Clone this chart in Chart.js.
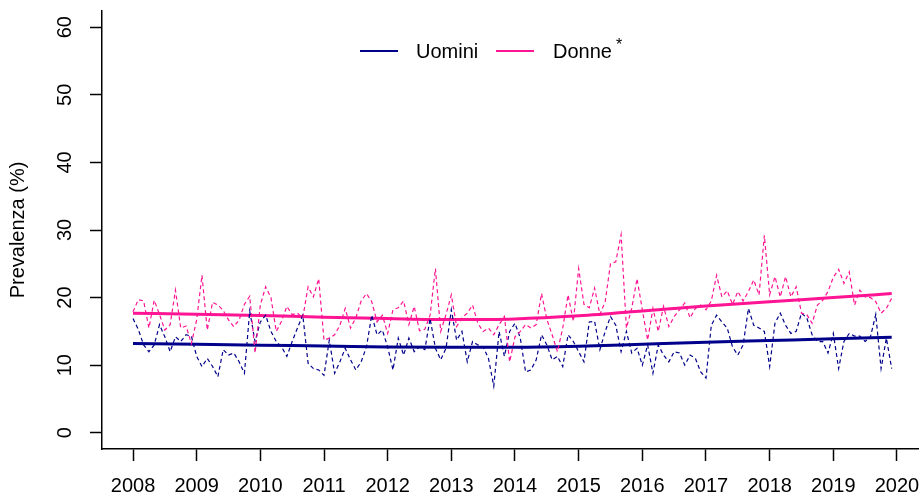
<!DOCTYPE html>
<html>
<head>
<meta charset="utf-8">
<script src="https://cdn.jsdelivr.net/npm/chart.js@4/dist/chart.umd.min.js"></script>
<style>
html,body{margin:0;padding:0;background:#fff;overflow:hidden;}
canvas{display:block;}
</style>
</head>
<body>
<canvas id="c" width="920" height="497"></canvas>
<script>
// ---- data ----
const startYear = 2008;
const yearTicks = [2008,2009,2010,2011,2012,2013,2014,2015,2016,2017,2018,2019,2020];
const yTicks = [0,10,20,30,40,50,60];

// Monthly prevalence, Jan 2008 - Dec 2019
const uomini = [
  16.9,15.3,13.0,12.0,13.0,16.0,14.2,12.0,14.2,13.5,14.5,14.3,
  11.3, 9.8,11.0, 9.8, 8.3,12.3,11.5,11.8,10.5, 8.8,18.0,13.5,
  16.4,17.4,15.0,13.5,12.7,11.3,13.5,15.5,17.4,10.3, 9.5, 9.3,
   8.5,13.7, 8.8,10.5,12.5,10.8, 9.3,10.5,12.7,17.4,14.5,15.2,
  12.7, 9.3,14.0,11.5,14.0,12.0,12.7,12.3,16.9,12.5,10.8,12.5,
  18.2,13.7,15.0,10.5,13.5,13.0,12.7,11.0, 6.9,15.0,11.3,15.0,
  16.2,14.0, 9.0, 9.3,10.8,14.5,13.0,10.8,11.3, 9.8,14.5,13.5,
  12.0,10.5,16.4,16.5,12.3,15.0,17.2,15.9,12.0,15.0,11.8,12.5,
  10.0,13.0, 8.8,13.0,11.5,10.5,12.0,11.8,10.0,11.5,11.0, 9.0,
   8.1,15.9,17.4,16.4,15.5,12.7,11.5,13.0,18.4,15.9,15.5,15.0,
   9.8,16.2,17.7,15.9,14.7,15.0,17.7,17.0,14.5,13.5,13.5,11.8,
  14.7, 9.5,13.5,14.7,14.3,14.3,13.5,14.2,17.5, 9.5,14.0, 9.5
];
const donne = [
  17.9,19.7,19.5,15.5,19.6,17.5,15.2,16.0,21.1,15.5,15.8,13.2,
  16.7,23.3,15.2,19.3,18.9,18.1,16.7,15.7,16.7,19.0,20.2,11.8,
  18.9,21.6,20.0,15.0,16.5,18.7,17.5,17.7,17.0,21.6,20.1,22.8,
  13.7,14.0,14.5,15.9,18.4,15.5,17.0,19.5,20.6,19.4,16.4,17.4,
  14.7,18.2,18.5,19.5,16.0,18.7,15.1,15.3,17.4,24.3,15.0,17.5,
  20.4,15.7,17.0,17.7,18.9,16.2,15.0,15.5,14.5,16.0,17.2,10.5,
  14.2,15.0,16.0,15.5,16.0,20.6,16.8,14.5,12.0,15.5,20.4,16.5,
  24.3,19.0,18.5,21.4,17.5,19.4,25.0,25.3,29.3,15.5,18.4,22.8,
  18.2,13.7,18.4,15.0,18.7,15.7,17.2,18.2,19.2,17.0,18.4,18.9,
  18.2,19.5,23.3,20.1,21.0,19.0,20.9,19.5,20.9,22.6,20.4,29.2,
  20.4,23.1,20.1,23.1,20.1,21.6,17.7,17.5,16.2,18.9,19.6,20.9,
  23.0,24.2,22.1,23.8,18.9,21.1,20.1,20.0,19.4,17.7,18.4,19.9
];

// Smoothed trends, read at yearly knots
const trendYears = [2008,2009,2010,2011,2012,2013,2014,2015,2016,2017,2018,2019,2019.917];
const trendUomini = [13.2,13.1,12.95,12.85,12.7,12.65,12.65,12.8,13.1,13.4,13.65,13.9,14.15];
const trendDonne  = [17.7,17.55,17.35,17.1,16.9,16.75,16.85,17.3,18.0,18.75,19.4,20.0,20.6];

const legendLabels = ['Uomini','Donne'];
const yTitle = 'Prevalenza (%)';

// ---- build ----
const toPts = (arr) => arr.map((v,i)=>({x: startYear + i/12, y: v}));
const trendPts = (ys) => ys.map((v,i)=>({x: trendYears[i], y: v}));

const BLUE = '#00008B';
const PINK = '#FF1493';
const FONT = 'Liberation Sans, Arial, sans-serif';

const legendPlugin = {
  id: 'rlegend',
  afterDraw(chart){
    const ctx = chart.ctx;
    ctx.save();
    ctx.lineWidth = 2;
    ctx.strokeStyle = BLUE;
    ctx.beginPath(); ctx.moveTo(360,51); ctx.lineTo(398,51); ctx.stroke();
    ctx.strokeStyle = PINK;
    ctx.beginPath(); ctx.moveTo(496,51); ctx.lineTo(534,51); ctx.stroke();
    ctx.fillStyle = '#000';
    ctx.font = '20px ' + FONT;
    ctx.textBaseline = 'alphabetic';
    ctx.textAlign = 'left';
    ctx.fillText(legendLabels[0], 416, 58);
    ctx.fillText(legendLabels[1], 553, 58);
    ctx.font = '16px ' + FONT;
    ctx.fillText('*', 616, 50);
    ctx.restore();
  }
};

const zeroPad = (s) => { s.paddingLeft = 0; s.paddingRight = 0; s.paddingTop = 0; s.paddingBottom = 0; };

new Chart(document.getElementById('c'), {
  type: 'line',
  data: {
    datasets: [
      {label:'Donne', data: toPts(donne), borderColor: PINK, borderWidth: 1.2, borderDash:[4,3], pointRadius:0, tension:0, fill:false, order:0},
      {label:'Uomini', data: toPts(uomini), borderColor: BLUE, borderWidth: 1.2, borderDash:[4,3], pointRadius:0, tension:0, fill:false, order:1},
      {label:'Donne trend', data: trendPts(trendDonne), borderColor: PINK, borderWidth: 3, pointRadius:0, cubicInterpolationMode:'monotone', fill:false, order:2},
      {label:'Uomini trend', data: trendPts(trendUomini), borderColor: BLUE, borderWidth: 3, pointRadius:0, cubicInterpolationMode:'monotone', fill:false, order:3}
    ]
  },
  options: {
    responsive: false,
    animation: false,
    events: [],
    layout: { padding: { left: 0, right: 2, top: 11, bottom: 0 } },
    plugins: { legend: { display: false }, tooltip: { enabled: false } },
    scales: {
      x: {
        type: 'linear',
        min: 2007.513,
        max: 2020.33,
        afterBuildTicks: (s) => { s.ticks = yearTicks.map(v=>({value:v})); },
        afterFit: (s) => { s.height = 48; zeroPad(s); },
        grid: { drawOnChartArea: false, drawTicks: true, tickLength: 12, tickColor: '#000', tickWidth: 1.5 },
        border: { display: true, color: '#000', width: 1.5 },
        ticks: { color: '#000', font: { family: FONT, size: 20 }, padding: 13, maxRotation: 0, minRotation: 0, autoSkip: false,
                 callback: (v) => String(v) }
      },
      y: {
        type: 'linear',
        min: -2.4,
        max: 62.4,
        afterBuildTicks: (s) => { s.ticks = yTicks.map(v=>({value:v})); },
        afterFit: (s) => { s.width = 102; zeroPad(s); },
        grid: { drawOnChartArea: false, drawTicks: true, tickLength: 12, tickColor: '#000', tickWidth: 1.5 },
        border: { display: true, color: '#000', width: 1.5 },
        ticks: { color: '#000', font: { family: FONT, size: 20 }, padding: 13, minRotation: 90, maxRotation: 90, crossAlign: 'center', autoSkip: false,
                 callback: (v) => String(v) },
        title: { display: true, text: yTitle, color: '#000', font: { family: FONT, size: 20 }, padding: { top: 6, bottom: 0 } }
      }
    }
  },
  plugins: [legendPlugin]
});
</script>
</body>
</html>
